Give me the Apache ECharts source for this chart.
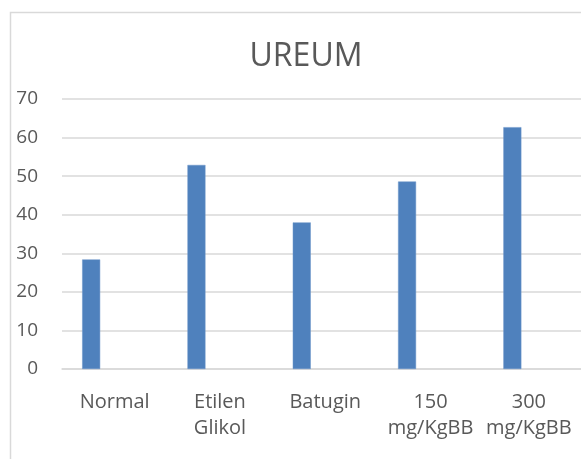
<!DOCTYPE html>
<html>
<head>
<meta charset="utf-8">
<script src="https://cdn.jsdelivr.net/npm/echarts@6/dist/echarts.min.js"></script>
<style>
  html, body { margin: 0; padding: 0; background: #fff; }
  #main { width: 581px; height: 459px; }
</style>
</head>
<body>
<div id="main"></div>
<script>
const categories = ["Normal", "Etilen\nGlikol", "Batugin", "150\nmg/KgBB", "300\nmg/KgBB"];
const ureum = [28.4, 52.9, 38.0, 48.6, 62.7];
const yTicks = [0, 10, 20, 30, 40, 50, 60, 70];

const myChart = echarts.init(document.getElementById("main"));

// last label is squeezed left a little, like the original
const categoryData = categories.map((c, i) =>
  i === categories.length - 1 ? { value: c, textStyle: { padding: [0, 14, 0, 0] } } : c
);

const option = {
  backgroundColor: "#fff",
  animation: false,
  textStyle: { fontFamily: "Open Sans" },
  title: {
    text: "UREUM",
    left: 301,
    top: 36,
    textAlign: "center",
    textStyle: { fontFamily: "Open Sans", fontSize: 32, fontWeight: "normal", color: "#595959" },
  },
  // chart frame (light border round the chart area)
  graphic: [
    {
      type: "rect",
      shape: { x: 10.5, y: 12.5, width: 700, height: 600 },
      style: { fill: "none", stroke: "#d9d9d9", lineWidth: 1.5 },
      silent: true,
    },
  ],
  grid: {
    left: 62,
    top: 99,
    width: 526.5,
    height: 270,
    containLabel: false,
    outerBoundsMode: "none",
  },
  xAxis: {
    type: "category",
    data: categoryData,
    axisLine: { show: true, lineStyle: { color: "#d9d9d9", width: 1.5 } },
    axisTick: { show: false },
    axisLabel: {
      interval: 0,
      margin: 20,
      fontFamily: "Open Sans",
      fontSize: 20,
      lineHeight: 26,
      color: "#595959",
      verticalAlign: "top",
    },
  },
  yAxis: {
    type: "value",
    min: yTicks[0],
    max: yTicks[yTicks.length - 1],
    interval: 10,
    axisLine: { show: false },
    axisTick: { show: false },
    splitLine: { lineStyle: { color: "#d9d9d9", width: 1.5 } },
    axisLabel: {
      margin: 24,
      fontFamily: "Open Sans",
      fontSize: 19,
      color: "#595959",
    },
  },
  series: [
    {
      name: "UREUM",
      type: "bar",
      data: ureum,
      barWidth: 18,
      barGap: "161%",
      itemStyle: { color: "#4f81bd", borderColor: "#6a94c8", borderWidth: 0.5 },
    },
    {
      name: "empty",
      type: "bar",
      data: [],
      barWidth: 18,
    },
  ],
};

option && myChart.setOption(option);
</script>
</body>
</html>
